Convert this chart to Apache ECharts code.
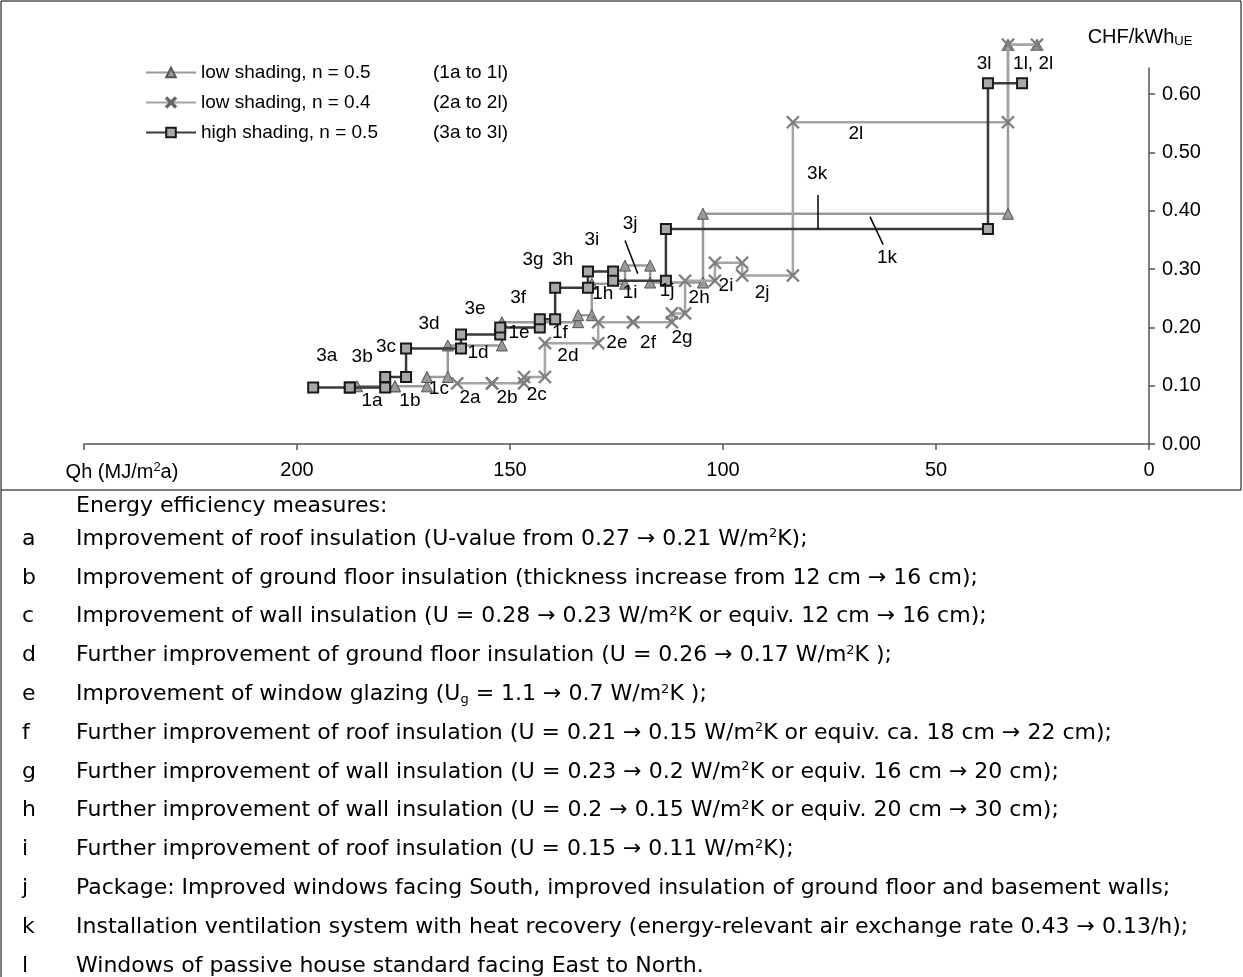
<!DOCTYPE html>
<html><head><meta charset="utf-8">
<script src="https://cdn.jsdelivr.net/npm/echarts@6/dist/echarts.min.js"></script>
<style>html,body{margin:0;padding:0;background:#fff}#c{width:1243px;height:977px}</style>
</head><body><div id="c"></div>
<script>
// ---- data (Qh in MJ/m2a, cost in CHF/kWh_UE) ----
const seriesNames = ['low shading, n = 0.5', 'low shading, n = 0.4', 'high shading, n = 0.5'];
const seriesRanges = ['(1a to 1l)', '(2a to 2l)', '(3a to 3l)'];
// Qh before / after each measure a..l (13 boundaries)
const q1 = [185.9, 177.0, 169.5, 164.6, 151.9, 143.0, 134.0, 130.8, 123.0, 117.1, 104.7, 33.1, 26.3];
const c1 = [0.099, 0.099, 0.115, 0.169, 0.209, 0.209, 0.221, 0.275, 0.306, 0.277, 0.395, 0.685];
const q2 = [162.4, 154.2, 146.7, 141.8, 129.3, 121.1, 112.0, 108.9, 101.9, 95.5, 83.6, 33.1, 26.3];
const c2 = [0.104, 0.104, 0.115, 0.173, 0.209, 0.209, 0.224, 0.280, 0.311, 0.289, 0.552, 0.685];
const q3 = [196.2, 187.6, 179.3, 174.4, 161.5, 152.3, 143.0, 139.4, 131.7, 125.8, 113.4, 37.8, 29.8];
const c3 = [0.097, 0.097, 0.115, 0.164, 0.188, 0.200, 0.214, 0.268, 0.296, 0.280, 0.369, 0.619];
// annotation labels
const annNames = ['3a','3b','3c','3d','3e','3f','3g','3h','3i','3j','3k','3l','1l, 2l',
  '1a','1b','1c','1d','1e','1f','1h','1i','1j','1k',
  '2a','2b','2c','2d','2e','2f','2g','2h','2i','2j','2l'];
const annQ = [193.0,184.7,179.1,169.0,158.2,148.1,144.6,137.6,130.8,121.8,77.9,38.7,27.2,
  182.4,173.5,166.7,157.5,147.9,138.3,128.2,121.8,113.1,61.5,
  159.4,150.7,143.7,136.4,124.9,117.6,109.6,105.6,99.3,90.8,68.8];
const annC = [0.152,0.150,0.166,0.207,0.232,0.250,0.316,0.316,0.350,0.378,0.463,0.653,0.653,
  0.075,0.075,0.094,0.156,0.190,0.190,0.258,0.260,0.263,0.320,
  0.080,0.080,0.084,0.152,0.174,0.174,0.183,0.250,0.272,0.260,0.532];
// leader lines [q1, c1, q2, c2]
const leaders = [[123.0,0.349,120.0,0.292],[77.7,0.427,77.7,0.369],[65.5,0.390,62.4,0.342]];
const yTicks = [0, 0.1, 0.2, 0.3, 0.4, 0.5, 0.6];
const measureLetters = ['a','b','c','d','e','f','g','h','i','j','k','l'];
const measureTexts = [
  'Improvement of roof insulation (U-value from 0.27 \u2192 0.21 W/m{sup|2}K);',
  'Improvement of ground floor insulation (thickness increase from 12 cm \u2192 16 cm);',
  'Improvement of wall insulation (U = 0.28 \u2192 0.23 W/m{sup|2}K or equiv. 12 cm \u2192 16 cm);',
  'Further improvement of ground floor insulation (U = 0.26 \u2192 0.17 W/m{sup|2}K );',
  'Improvement of window glazing (U{sub|g} = 1.1 \u2192 0.7 W/m{sup|2}K );',
  'Further improvement of roof insulation (U = 0.21 \u2192 0.15 W/m{sup|2}K or equiv. ca. 18 cm \u2192 22 cm);',
  'Further improvement of wall insulation (U = 0.23 \u2192 0.2 W/m{sup|2}K or equiv. 16 cm \u2192 20 cm);',
  'Further improvement of wall insulation (U = 0.2 \u2192 0.15 W/m{sup|2}K or equiv. 20 cm \u2192 30 cm);',
  'Further improvement of roof insulation (U = 0.15 \u2192 0.11 W/m{sup|2}K);',
  'Package: Improved windows facing South, improved insulation of ground floor and basement walls;',
  'Installation ventilation system with heat recovery (energy-relevant air exchange rate 0.43 \u2192 0.13/h);',
  'Windows of passive house standard facing East to North.'
];

function steps(q, c) {
  const d = [];
  for (let i = 0; i < c.length; i++) { d.push([q[i], c[i]]); d.push([q[i + 1], c[i]]); }
  return d;
}

const FONT = '"Liberation Sans", Arial, sans-serif';
const TFONT = '"DejaVu Sans", Verdana, sans-serif';
const TSIZE = 22;
const chart = echarts.init(document.getElementById('c'), null, { renderer: 'canvas' });

const xPath = 'path://M1,0 L5,4 L9,0 L10,1 L6,5 L10,9 L9,10 L5,6 L1,10 L0,9 L4,5 L0,1 Z';

const mainSeries = [
  { name: seriesNames[0], data: steps(q1, c1), symbol: 'triangle', symbolSize: 11,
    itemStyle: { color: '#999999', borderColor: '#555555', borderWidth: 1 },
    lineStyle: { color: '#9a9a9a', width: 2.5 }, z: 3 },
  { name: seriesNames[1], data: steps(q2, c2), symbol: xPath, symbolSize: 13,
    itemStyle: { color: '#808080', borderColor: '#666666', borderWidth: 0.5 },
    lineStyle: { color: '#a5a5a5', width: 2.5 }, z: 4 },
  { name: seriesNames[2], data: steps(q3, c3), symbol: 'rect', symbolSize: 10,
    itemStyle: { color: '#a8a8a8', borderColor: '#1a1a1a', borderWidth: 2 },
    lineStyle: { color: '#3a3a3a', width: 2.5 }, z: 5 }
].map(s => Object.assign({ type: 'line', showAllSymbol: true, clip: false, animation: false }, s));

const leaderSeries = leaders.map(l => ({
  type: 'line', data: [[l[0], l[1]], [l[2], l[3]]], symbol: 'none', clip: false,
  lineStyle: { color: '#000', width: 1.5 }, z: 6, silent: true, animation: false
}));

const labelSeries = {
  type: 'scatter', symbolSize: 1, itemStyle: { color: 'rgba(0,0,0,0)', opacity: 1 }, clip: false, z: 7, animation: false, silent: true,
  data: annNames.map((n, i) => ({ name: n, value: [annQ[i], annC[i]] })),
  label: { show: true, position: 'inside', formatter: '{b}', color: '#000', opacity: 1,
    textBorderWidth: 0, fontSize: 19, fontFamily: FONT }
};

const graphics = [
  { type: 'rect', shape: { x: 1, y: 1, width: 1240, height: 489 }, style: { fill: 'none', stroke: '#000', lineWidth: 1 }, silent: true },
  { type: 'line', shape: { x1: 1, y1: 490, x2: 1, y2: 977 }, style: { stroke: '#000', lineWidth: 1 }, silent: true },
  { type: 'text', x: 122, y: 472, style: { text: '{q|Qh (MJ/m}{s|2}{q|a)}', align: 'center', verticalAlign: 'middle',
      rich: { q: { fontSize: 20, fontFamily: FONT, fill: '#000' }, s: { fontSize: 13, fontFamily: FONT, fill: '#000', padding: [0, 0, 9, 0] } } } },
  { type: 'text', x: 1140, y: 37, style: { text: '{q|CHF/kWh}{s|UE}', align: 'center', verticalAlign: 'middle',
      rich: { q: { fontSize: 20, fontFamily: FONT, fill: '#000' }, s: { fontSize: 13, fontFamily: FONT, fill: '#000', padding: [9, 0, 0, 0] } } } },
  { type: 'text', x: 76, y: 506, style: { text: 'Energy efficiency measures:', fontSize: TSIZE, fontFamily: TFONT, fill: '#000', verticalAlign: 'middle' } }
];
const rowY0 = 539, rowStep = 38.8;
measureLetters.forEach((m, i) => {
  const y = rowY0 + i * rowStep;
  graphics.push({ type: 'text', x: 22, y: y, style: { text: m, fontSize: TSIZE, fontFamily: TFONT, fill: '#000', verticalAlign: 'middle' } });
  graphics.push({ type: 'text', x: 76, y: y, style: { text: measureTexts[i], verticalAlign: 'middle',
    fontSize: TSIZE, fontFamily: TFONT, fill: '#000',
    rich: { sup: { fontSize: 13, fontFamily: TFONT, fill: '#000', padding: [0, 0, 10, 0] },
            sub: { fontSize: 13, fontFamily: TFONT, fill: '#000', padding: [10, 0, 0, 0] } } } });
});

chart.setOption({
  animation: false,
  backgroundColor: '#fff',
  grid: { left: 84, right: 94, top: 68, bottom: 533, containLabel: false },
  legend: {
    data: seriesNames, orient: 'vertical', left: 145, top: 63, padding: 0, itemWidth: 50, itemHeight: 12, itemGap: 11,
    textStyle: { fontSize: 19, fontFamily: FONT, color: '#000',
      rich: { n: { width: 232, fontSize: 19, fontFamily: FONT }, r: { fontSize: 19, fontFamily: FONT } } },
    formatter: name => '{n|' + name + '}{r|' + seriesRanges[seriesNames.indexOf(name)] + '}'
  },
  xAxis: {
    type: 'value', inverse: true, min: 0, max: 250, interval: 50,
    axisLine: { show: true, lineStyle: { color: '#555', width: 1.5 } },
    axisTick: { show: true, length: 6, lineStyle: { color: '#555', width: 1.5 } },
    axisLabel: { fontSize: 20, fontFamily: FONT, color: '#000', margin: 16,
      formatter: v => (v === 250 ? '' : String(v)) },
    splitLine: { show: false }
  },
  yAxis: {
    type: 'value', position: 'right', min: 0, max: 0.645, interval: 0.1,
    axisLine: { show: true, lineStyle: { color: '#555', width: 1.5 } },
    axisTick: { show: true, length: 6, customValues: yTicks, lineStyle: { color: '#555', width: 1.5 } },
    axisLabel: { fontSize: 20, fontFamily: FONT, color: '#000', margin: 13, customValues: yTicks,
      formatter: v => v.toFixed(2) },
    splitLine: { show: false }
  },
  series: mainSeries.concat(leaderSeries, [labelSeries]),
  graphic: graphics
});
</script></body></html>
